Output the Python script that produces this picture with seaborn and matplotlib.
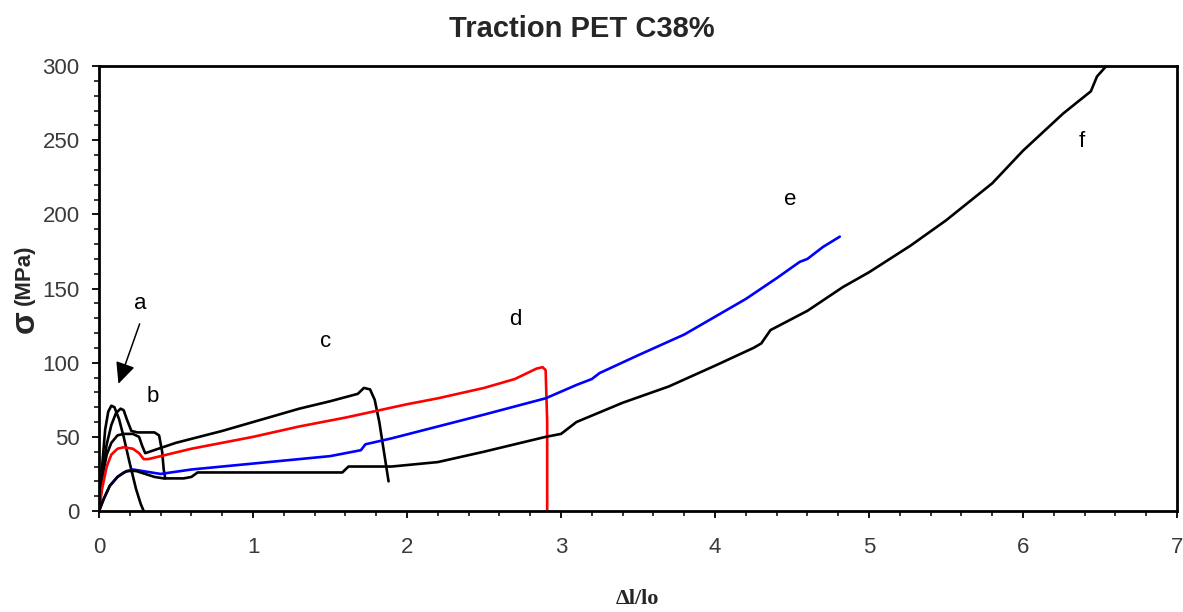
import numpy as np
import pandas as pd
import matplotlib
matplotlib.use("Agg")
import matplotlib.pyplot as plt
from matplotlib.ticker import MultipleLocator
import seaborn as sns

# ---- data ----
a_x = [0, 0.02, 0.04, 0.06, 0.08, 0.10, 0.13, 0.16, 0.20, 0.24, 0.27, 0.29]
a_y = [0, 30, 55, 67, 71, 70, 62, 50, 32, 15, 5, 0]

b_x = [0, 0.02, 0.05, 0.08, 0.11, 0.14, 0.16, 0.18, 0.21, 0.25, 0.30, 0.36, 0.39, 0.41, 0.42, 0.43]
b_y = [0, 25, 45, 58, 66, 69, 68, 62, 54, 53, 53, 53, 51, 40, 28, 22]

c_x = [0, 0.02, 0.05, 0.08, 0.12, 0.16, 0.22, 0.26, 0.28, 0.30, 0.5, 0.8, 1.0, 1.3, 1.5, 1.68, 1.72, 1.76, 1.79, 1.82, 1.85, 1.88]
c_y = [0, 22, 38, 46, 51, 52, 52, 50, 44, 39, 46, 54, 60, 69, 74, 79, 83, 82, 75, 60, 40, 20]

d_x = [0, 0.02, 0.05, 0.08, 0.12, 0.16, 0.22, 0.26, 0.29, 0.32, 0.6, 1.0, 1.3, 1.6, 2.0, 2.2, 2.5, 2.7, 2.84, 2.88, 2.90, 2.91, 2.91]
d_y = [0, 15, 30, 38, 42, 43, 42, 39, 35, 35, 42, 50, 57, 63, 72, 76, 83, 89, 96, 97, 95, 60, 0]

e_x = [0, 0.03, 0.07, 0.12, 0.16, 0.22, 0.28, 0.34, 0.40, 0.6, 0.9, 1.2, 1.5, 1.70, 1.73, 1.9, 2.2, 2.5, 2.9, 3.1, 3.2, 3.25, 3.5, 3.8, 4.0, 4.2, 4.4, 4.55, 4.6, 4.7, 4.81]
e_y = [0, 8, 17, 23, 26, 28, 27, 26, 25, 28, 31, 34, 37, 41, 45, 49, 57, 65, 76, 85, 89, 93, 105, 119, 131, 143, 157, 168, 170, 178, 185]

f_x = [0, 0.03, 0.07, 0.12, 0.18, 0.24, 0.30, 0.36, 0.42, 0.55, 0.60, 0.64, 0.9, 1.2, 1.58, 1.62, 1.9, 2.2, 2.5, 2.7, 2.9, 3.0, 3.05, 3.1, 3.4, 3.7, 4.0, 4.25, 4.30, 4.36, 4.6, 4.83, 5.0, 5.27, 5.5, 5.8, 6.0, 6.26, 6.44, 6.48, 6.54]
f_y = [0, 8, 17, 23, 27, 27, 25, 23, 22, 22, 23, 26, 26, 26, 26, 30, 30, 33, 40, 45, 50, 52, 56, 60, 73, 84, 98, 110, 113, 122, 135, 151, 161, 179, 196, 221, 243, 268, 283, 293, 300]

curve_names = ["a", "b", "c", "d", "e", "f"]
curve_colors = {"a": "black", "b": "black", "c": "black", "d": "#ff0000", "e": "#0000ff", "f": "black"}
label_pos = {"a": (0.27, 140), "b": (0.35, 77), "c": (1.47, 114), "d": (2.70, 129), "e": (4.49, 210), "f": (6.38, 249)}

xs = [a_x, b_x, c_x, d_x, e_x, f_x]
ys = [a_y, b_y, c_y, d_y, e_y, f_y]
frames = []
for n, x, y in zip(curve_names, xs, ys):
    frames.append(pd.DataFrame({"x": x, "y": y, "curve": n, "order": np.arange(len(x))}))
df = pd.concat(frames, ignore_index=True)

sns.set_style("white")
plt.rcParams["font.family"] = ["Liberation Sans", "DejaVu Sans"]

fig = plt.figure(figsize=(11.83, 6.12), dpi=100)
ax = fig.add_axes([0.0837, 0.165, 0.9113, 0.727])

for n in curve_names:
    sub = df[df["curve"] == n]
    sns.lineplot(data=sub, x="x", y="y", sort=False, estimator=None, color=curve_colors[n],
                 linewidth=1.9, ax=ax, legend=False)

ax.set_xlim(0, 7)
ax.set_ylim(0, 300)
ax.xaxis.set_major_locator(MultipleLocator(1))
ax.xaxis.set_minor_locator(MultipleLocator(0.2))
ax.yaxis.set_major_locator(MultipleLocator(50))
ax.yaxis.set_minor_locator(MultipleLocator(10))
ax.tick_params(which="major", direction="out", length=5, width=1.3, color="black",
               labelsize=16, labelcolor="#3a3a3a", bottom=True, left=True)
ax.tick_params(which="minor", direction="out", length=3.5, width=1.1, color="black", bottom=True, left=True)
ax.tick_params(axis="x", pad=14)
ax.tick_params(axis="y", pad=9)
for s in ax.spines.values():
    s.set_color("black")
    s.set_linewidth(2.0)

ax.set_xlabel("")
ax.set_ylabel("")

for n in curve_names:
    ax.text(*label_pos[n], n, fontsize=16, ha="center", va="center", color="black")

ax.annotate("", xy=(0.12, 84), xytext=(0.27, 128),
            arrowprops=dict(arrowstyle="-|>,head_length=1.3,head_width=0.6", color="black", lw=1.1))

fig.text(0.492, 0.952, "Traction PET C38%", ha="center", va="center", fontsize=21, fontweight="bold")
fig.text(0.021, 0.551, "(MPa)", rotation=90, ha="center", va="center", fontsize=16, fontweight="bold")
fig.text(0.021, 0.474, "σ", rotation=90, ha="center", va="center", fontsize=24, fontweight="bold")
fig.text(0.539, 0.022, "Δl/lo", ha="center", va="center", fontsize=16, fontweight="bold",
         family=["Liberation Serif", "DejaVu Serif"])

fig.savefig("out.png", dpi=100, facecolor="white")
